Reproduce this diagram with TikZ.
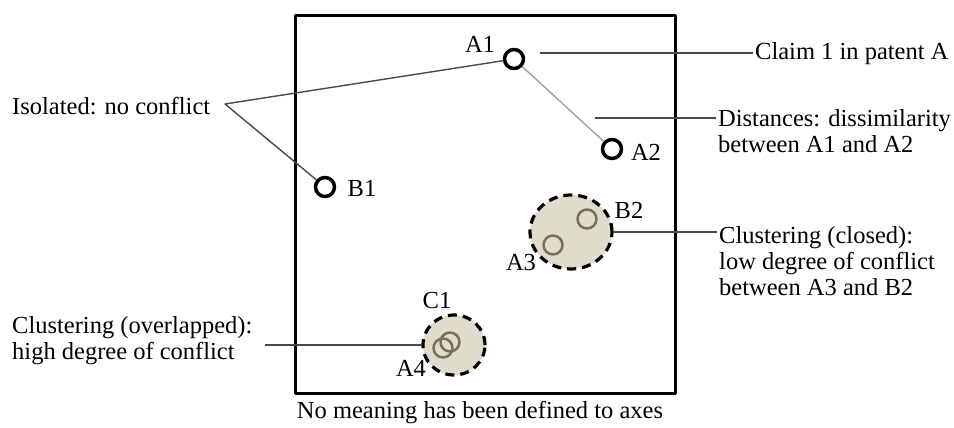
\documentclass[tikz,border=0pt]{standalone}
\usepackage{fontspec}
\setmainfont{Liberation Serif}
\usetikzlibrary{shapes.geometric,positioning}
\definecolor{clusterfill}{HTML}{E0DCCB}
\definecolor{claimring}{HTML}{7A6E58}
\definecolor{leadgray}{HTML}{4A4A4A}
\definecolor{distgray}{HTML}{A0A0A0}

\begin{document}
\begin{tikzpicture}[
  x=1pt,
  y=-1pt,
  line join=round,
  frame/.style={draw=black,line width=3pt},
  claim/.style={circle,draw=black,line width=3.5pt,minimum size=19pt,inner sep=0pt},
  ring/.style={circle,draw=claimring,line width=2.5pt,minimum size=19pt,inner sep=0pt},
  cluster/.style={ellipse,draw=black,fill=clusterfill,line width=3.2pt,
    dash pattern=on 9pt off 6pt,inner sep=0pt},
  lead/.style={draw=leadgray,line width=1.4pt},
  dist/.style={draw=distgray,line width=1.4pt},
  lbl/.style={font=\fontsize{24.5}{26}\selectfont,inner sep=2pt,align=left}
]
  \useasboundingbox (0,0) rectangle (954,428);

  % Plot area without defined axes.
  \node[frame,minimum width=380pt,minimum height=377pt,inner sep=0pt] (plot) at (485,204.5) {};
  \node[lbl] (axes) at (480,413) {No meaning has been defined to axes};

  % Cluster regions first, so the claims sit on top.
  \node[cluster,minimum width=82pt,minimum height=74pt] (K1) at (571,232) {};
  \node[cluster,minimum width=62pt,minimum height=60pt] (K2) at (454,345) {};

  % Claims.
  \node[claim] (A1) at (514,59) {};
  \node[claim] (A2) at (612,149) {};
  \node[claim] (B1) at (325,187) {};
  \node[ring] (B2) at (587,219) {};
  \node[ring] (A3) at (553,245) {};
  \node[ring] (C1) at (450,342) {};
  \node[ring] (A4) at (443,348) {};

  % Distance between A1 and A2.
  \draw[dist] (A1) -- (A2);

  % Claim labels.
  \node[lbl] (lA1) at (480,44) {A1};
  \node[lbl] (lA2) at (646,152) {A2};
  \node[lbl] (lB1) at (362,188) {B1};
  \node[lbl] (lB2) at (629,210) {B2};
  \node[lbl] (lA3) at (521,263) {A3};
  \node[lbl] (lC1) at (437,301) {C1};
  \node[lbl] (lA4) at (411,368) {A4};

  % Explanations.
  \node[lbl,anchor=west] (iso) at (10,106) {Isolated: no conflict};
  \node[lbl,anchor=west] (clm) at (753,54) {Claim 1 in patent A};
  \node[lbl,anchor=west] (dst) at (716,131) {Distances: dissimilarity\\between A1 and A2};
  \node[lbl,anchor=west] (cls) at (717,261) {Clustering (closed):\\low degree of conflict\\between A3 and B2};
  \node[lbl,anchor=west] (ovl) at (10,341) {Clustering (overlapped):\\high degree of conflict};

  % Leader lines.
  \coordinate (isoj) at (225,104);
  \coordinate (clmtip) at (540,53);
  \coordinate (dsttip) at (595,118);
  \coordinate (ovltip) at (265,345);
  \draw[lead] (A1) -- (isoj) -- (B1);
  \draw[lead] (clmtip) -- (clm.west |- clmtip);
  \draw[lead] (dsttip) -- (dst.west |- dsttip);
  \draw[lead] (K1.east) -- (cls.west |- K1.east);
  \draw[lead] (ovltip) -- (K2.west |- ovltip);
\end{tikzpicture}
\end{document}
